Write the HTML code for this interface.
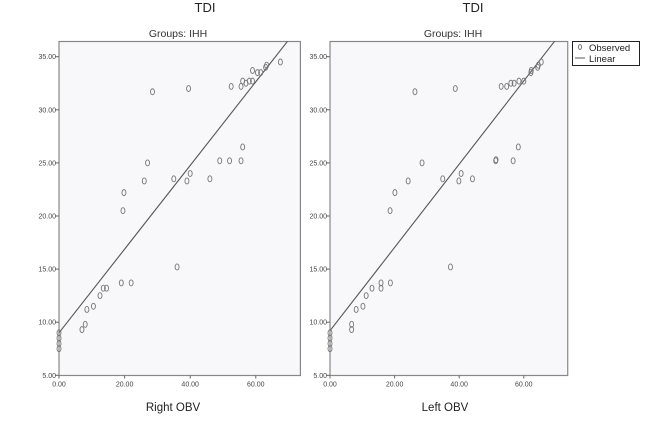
<!DOCTYPE html>
<html><head><meta charset="utf-8"><style>
body{margin:0;background:#fff;width:650px;height:425px;overflow:hidden}
svg{font-family:"Liberation Sans",sans-serif}
</style></head><body>
<svg id="c" width="650" height="425" xmlns="http://www.w3.org/2000/svg"></svg>
<script>
const yTicks=[5,10,15,20,25,30,35];
const xTicks=[0,20,40,60];
const leftX=[0,0,0,0,7,8,8.5,10.5,12.5,13.5,14.5,19,22,19.5,19.8,26,27,28.5,35,36,39,40,39.5,46,49,52,52.5,55.5,56,55.5,56,57,58,59,59,60.5,61.5,63,63.3,67.5];
const leftY=[7.5,8,8.5,9,9.3,9.8,11.2,11.5,12.5,13.2,13.2,13.7,13.7,20.5,22.2,23.3,25,31.7,23.5,15.2,23.3,24,32,23.5,25.2,25.2,32.2,25.2,26.5,32.2,32.7,32.5,32.7,32.7,33.7,33.5,33.5,34,34.2,34.5];
const rightX=[0,0,0,0,6.7,6.7,8.1,10.2,11.2,13,15.8,15.8,18.7,18.6,20.1,24.2,28.5,26.3,34.9,37.3,39.9,40.6,38.8,44.1,51.3,51.4,53,56.7,58.3,54.7,56,57,58.5,60,62.2,62.3,64.3,64.5,65.4];
const rightY=[7.5,8,8.5,9,9.3,9.8,11.2,11.5,12.5,13.2,13.2,13.7,13.7,20.5,22.2,23.3,25,31.7,23.5,15.2,23.3,24,32,23.5,25.2,25.3,32.2,25.2,26.5,32.2,32.5,32.5,32.7,32.7,33.5,33.7,34,34.2,34.5];
const leftFit=[9.0,0.394];
const rightFit=[9.2,0.392];
const svg=document.getElementById('c');
const NS='http://www.w3.org/2000/svg';
function mk(t,a,p){const e=document.createElementNS(NS,t);for(const k in a)e.setAttribute(k,a[k]);(p||svg).appendChild(e);return e;}
function panel(id,x0,xScale,xs,ys,fit,xlabel,titleX,subX,xlX){
  const g=mk('g',{});
  
  
  const top=41.5,bot=375.5,right=x0+xScale*73.6;
  const X=v=>x0+v*xScale, Y=v=>375.3-(v-5)*10.62;
  mk('rect',{x:x0,y:top,width:right-x0,height:bot-top,fill:'#f8f8fb',stroke:'#888','stroke-width':1.2},g);
  const tt=mk('text',{x:titleX,y:12,'text-anchor':'middle','font-size':13,fill:'#222'},g);tt.textContent='TDI';
  
  const st=mk('text',{x:subX,y:37,'text-anchor':'middle','font-size':10.5,fill:'#333'},g);st.textContent='Groups: IHH';
  
  yTicks.forEach(v=>{const y=Y(v);mk('line',{x1:x0-4,x2:x0,y1:y,y2:y,stroke:'#666'},g);
    const t=mk('text',{x:x0-3,y:y+2.5,'text-anchor':'end','font-size':7,fill:'#444'},g);t.textContent=v.toFixed(2);
    });
  xTicks.forEach(v=>{const x=X(v);mk('line',{x1:x,x2:x,y1:bot,y2:bot+3,stroke:'#666'},g);
    const t=mk('text',{x:x,y:bot+11,'text-anchor':'middle','font-size':7,fill:'#444'},g);t.textContent=v.toFixed(2);
    });
  const xl=mk('text',{x:xlX,y:411,'text-anchor':'middle','font-size':11.5,fill:'#222'},g);xl.textContent=xlabel;
  
  const xEnd=Math.min(73.6,(36.45-fit[0])/fit[1]);
  const ln=mk('line',{x1:X(0),y1:Y(fit[0]),x2:X(xEnd),y2:Y(fit[0]+fit[1]*xEnd),stroke:'#555','stroke-width':1.1},g);
  
  xs.forEach((v,i)=>{const p=mk('ellipse',{cx:X(v),cy:Y(ys[i]),rx:2,ry:3,fill:'none',stroke:'#777','stroke-width':0.9},g);
    });
}
panel('right-obv',59,3.28,leftX,leftY,leftFit,'Right OBV',205,178,173);
panel('left-obv',330,3.23,rightX,rightY,rightFit,'Left OBV',473,453,445);
const lg=mk('g',{});


mk('rect',{x:572.5,y:41.5,width:67,height:24,fill:'#fff',stroke:'#222'},lg);
mk('ellipse',{cx:580,cy:47,rx:1.6,ry:2.4,fill:'none',stroke:'#777'},lg);
const t1=mk('text',{x:589,y:51,'font-size':9.5,fill:'#222'},lg);t1.textContent='Observed';

mk('line',{x1:575,x2:585,y1:58,y2:58,stroke:'#555'},lg);
const t2=mk('text',{x:589,y:62,'font-size':9.5,fill:'#222'},lg);t2.textContent='Linear';

</script>
</body></html>
